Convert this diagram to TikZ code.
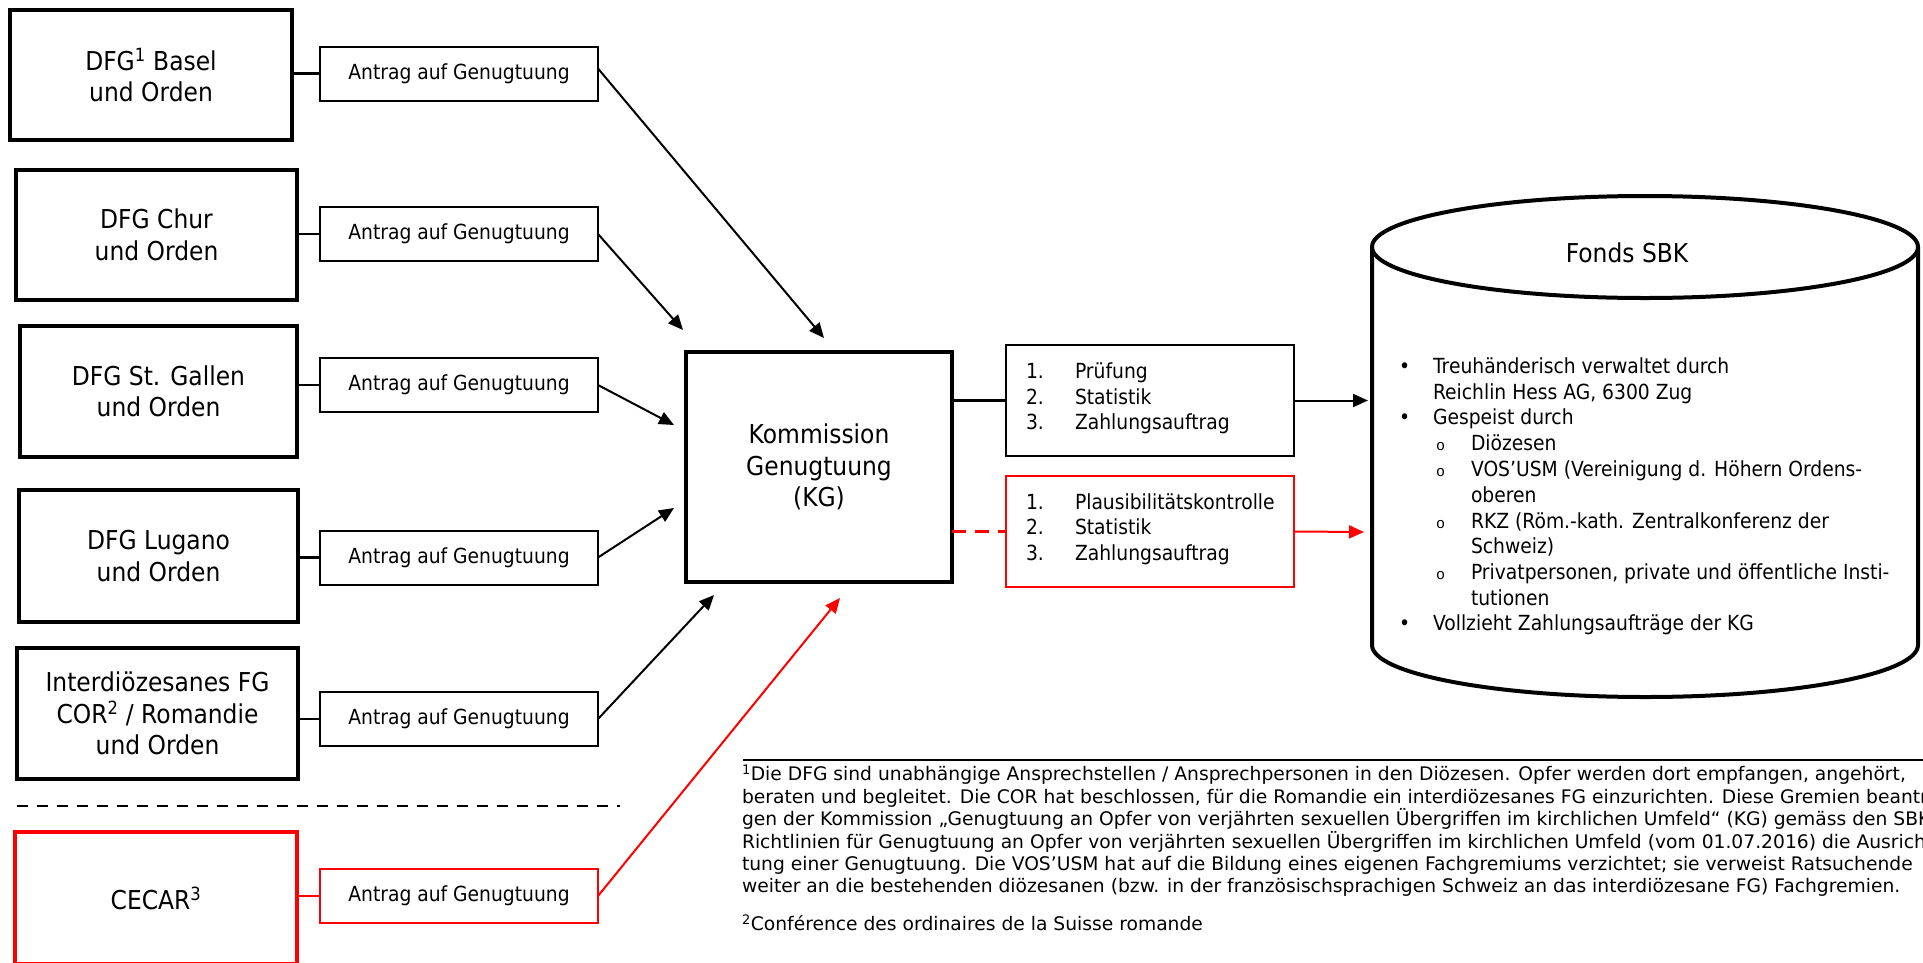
\documentclass[tikz,border=0pt]{standalone}
\usepackage{fontspec}
\setmainfont{DejaVu Sans}[FakeStretch=0.9]
\newfontfamily\monofam{Liberation Mono}
\newfontfamily\verdfam{DejaVu Sans}
\usetikzlibrary{arrows.meta}
\newcommand{\fsbig}{\fontsize{26}{31.5}\selectfont}
\newcommand{\fsmed}{\fontsize{20.8}{25.6}\selectfont}
\newcommand{\fsfoot}{\verdfam\fontsize{18.7}{22.3}\selectfont}
\begin{document}
\begin{tikzpicture}[x=1pt,y=-1pt,
  every node/.style={inner sep=0pt, outer sep=0pt},
  srcbox/.style={draw, line width=3.6pt, align=center, font=\fsbig},
  reqbox/.style={draw, line width=2pt, minimum width=278pt, minimum height=54pt, font=\fsmed},
  link/.style={line width=2.8pt},
  arr/.style={line width=2pt, -{Triangle[length=15pt,width=13pt]}},
  listbox/.style={draw, line width=2pt, minimum width=288pt, minimum height=111pt},
  ltxt/.style={anchor=mid west, font=\fsmed},
  subb/.style={anchor=mid west, font=\monofam\fontsize{15}{18}\selectfont},
  foot/.style={anchor=mid west, font=\fsfoot},
  cyl/.style={line width=4pt}]
\useasboundingbox (0,0) rectangle (1923,962);
\clip (0,0) rectangle (1923,962);

% source boxes
\node[srcbox, minimum width=282pt, minimum height=130pt] (basel) at (151,75) {DFG\textsuperscript{1} Basel\\und Orden};
\node[srcbox, minimum width=281pt, minimum height=130pt] (chur) at (156.5,235) {DFG Chur\\und Orden};
\node[srcbox, minimum width=277pt, minimum height=131pt] (gallen) at (158.5,391.5) {DFG St. Gallen\\und Orden};
\node[srcbox, minimum width=279pt, minimum height=132pt] (lugano) at (158.5,556) {DFG Lugano\\und Orden};
\node[srcbox, minimum width=281pt, minimum height=131pt] (inter) at (157.5,713.5) {Interdiözesanes FG\\COR\textsuperscript{2} / Romandie\\und Orden};
\node[srcbox, draw=red, line width=4pt, minimum width=282pt, minimum height=132pt] (cecar) at (156,898) {CECAR\textsuperscript{3}};

% request boxes
\node[reqbox] (a1) at (459,73.5) {Antrag auf Genugtuung};
\node[reqbox] (a2) at (459,234) {Antrag auf Genugtuung};
\node[reqbox] (a3) at (459,385) {Antrag auf Genugtuung};
\node[reqbox] (a4) at (459,557.5) {Antrag auf Genugtuung};
\node[reqbox] (a5) at (459,719) {Antrag auf Genugtuung};
\node[reqbox, draw=red] (a6) at (459,896) {Antrag auf Genugtuung};

\draw[link] (basel.east |- a1.west) -- (a1.west);
\draw[link] (chur.east |- a2.west) -- (a2.west);
\draw[link] (gallen.east |- a3.west) -- (a3.west);
\draw[link] (lugano.east |- a4.west) -- (a4.west);
\draw[link] (inter.east |- a5.west) -- (a5.west);
\draw[link, red] (cecar.east |- a6.west) -- (a6.west);

% separator
\coordinate (s1) at (17,806);
\coordinate (s2) at (620,806);
\draw[line width=2pt, dash pattern=on 11pt off 9pt] (s1) -- (s2);

% commission
\node[draw, line width=4pt, minimum width=266pt, minimum height=230pt, align=center, font=\fsbig] (kg) at (819,467) {Kommission\\Genugtuung\\(KG)};

\coordinate (t1) at (824,338);
\coordinate (t2) at (683,330);
\coordinate (t3) at (674,425);
\coordinate (t4) at (674,508);
\coordinate (t5) at (714,595);
\coordinate (t6) at (840,598);
\draw[arr] ([yshift=5pt]a1.east) -- (t1);
\draw[arr] (a2.east) -- (t2);
\draw[arr] (a3.east) -- (t3);
\draw[arr] (a4.east) -- (t4);
\draw[arr] (a5.east) -- (t5);
\draw[arr, red] (a6.east) -- (t6);

% list boxes
\node[listbox] (pa) at (1150,400.5) {};
\node[listbox, draw=red] (pb) at (1150,531.5) {};
\node[ltxt] (pa1n) at (1026,376) {1.};
\node[ltxt] (pa2n) at (1026,402) {2.};
\node[ltxt] (pa3n) at (1026,427) {3.};
\node[ltxt] (pa1) at (1075,376) {Prüfung};
\node[ltxt] (pa2) at (1075,402) {Statistik};
\node[ltxt] (pa3) at (1075,427) {Zahlungsauftrag};
\node[ltxt] (pb1n) at (1026,507) {1.};
\node[ltxt] (pb2n) at (1026,532) {2.};
\node[ltxt] (pb3n) at (1026,558) {3.};
\node[ltxt] (pb1) at (1075,507) {Plausibilitätskontrolle};
\node[ltxt] (pb2) at (1075,532) {Statistik};
\node[ltxt] (pb3) at (1075,558) {Zahlungsauftrag};

\draw[line width=2.5pt] (pa.west -| kg.east) -- (pa.west);
\draw[line width=2.5pt, red, dash pattern=on 14pt off 9pt] (pb.west -| kg.east) -- (pb.west);

% cylinder
\draw[cyl] (1372,247) -- (1372,645) arc[start angle=180, end angle=360, x radius=273pt, y radius=52pt] -- (1918,247);
\draw[cyl] (1645,247) ellipse [x radius=273pt, y radius=51pt];
\node[font=\fsbig] (fonds) at (1627,253) {Fonds SBK};

\coordinate (cA) at (1368,400.5);
\coordinate (cB) at (1364,532);
\draw[arr] (pa.east) -- (cA);
\draw[arr, red] (pb.east) -- (cB);

\node[ltxt] (b1) at (1399,371) {•};
\node[ltxt] (c1) at (1433,371) {Treuhänderisch verwaltet durch};
\node[ltxt] (c2) at (1433,397) {Reichlin Hess AG, 6300 Zug};
\node[ltxt] (b2) at (1399,422) {•};
\node[ltxt] (c3) at (1433,422) {Gespeist durch};
\node[subb] (o1) at (1436,448) {o};
\node[ltxt] (c4) at (1471,448) {Diözesen};
\node[subb] (o2) at (1436,474) {o};
\node[ltxt] (c5) at (1471,474) {VOS’USM (Vereinigung d. Höhern Ordens-};
\node[ltxt] (c6) at (1471,500) {oberen};
\node[subb] (o3) at (1436,526) {o};
\node[ltxt] (c7) at (1471,526) {RKZ (Röm.-kath. Zentralkonferenz der};
\node[ltxt] (c8) at (1471,551) {Schweiz)};
\node[subb] (o4) at (1436,577) {o};
\node[ltxt] (c9) at (1471,577) {Privatpersonen, private und öffentliche Insti-};
\node[ltxt] (c10) at (1471,603) {tutionen};
\node[ltxt] (b3) at (1399,628) {•};
\node[ltxt] (c11) at (1433,628) {Vollzieht Zahlungsaufträge der KG};

% footnotes
\coordinate (r1) at (743,760);
\coordinate (r2) at (1923,760);
\draw[line width=2.2pt] (r1) -- (r2);
\node[foot] (f1) at (742,778) {\textsuperscript{1}Die DFG sind unabhängige Ansprechstellen / Ansprechpersonen in den Diözesen. Opfer werden dort empfangen, angehört,};
\node[foot] (f2) at (742,800.5) {beraten und begleitet. Die COR hat beschlossen, für die Romandie ein interdiözesanes FG einzurichten. Diese Gremien beantra-};
\node[foot] (f3) at (742,823) {gen der Kommission „Genugtuung an Opfer von verjährten sexuellen Übergriffen im kirchlichen Umfeld“ (KG) gemäss den SBK-};
\node[foot] (f4) at (742,845.5) {Richtlinien für Genugtuung an Opfer von verjährten sexuellen Übergriffen im kirchlichen Umfeld (vom 01.07.2016) die Ausrich-};
\node[foot] (f5) at (742,868) {tung einer Genugtuung. Die VOS’USM hat auf die Bildung eines eigenen Fachgremiums verzichtet; sie verweist Ratsuchende};
\node[foot] (f6) at (742,890) {weiter an die bestehenden diözesanen (bzw. in der französischsprachigen Schweiz an das interdiözesane FG) Fachgremien.};
\node[foot] (f7) at (742,928) {\textsuperscript{2}Conférence des ordinaires de la Suisse romande};
\end{tikzpicture}
\end{document}
